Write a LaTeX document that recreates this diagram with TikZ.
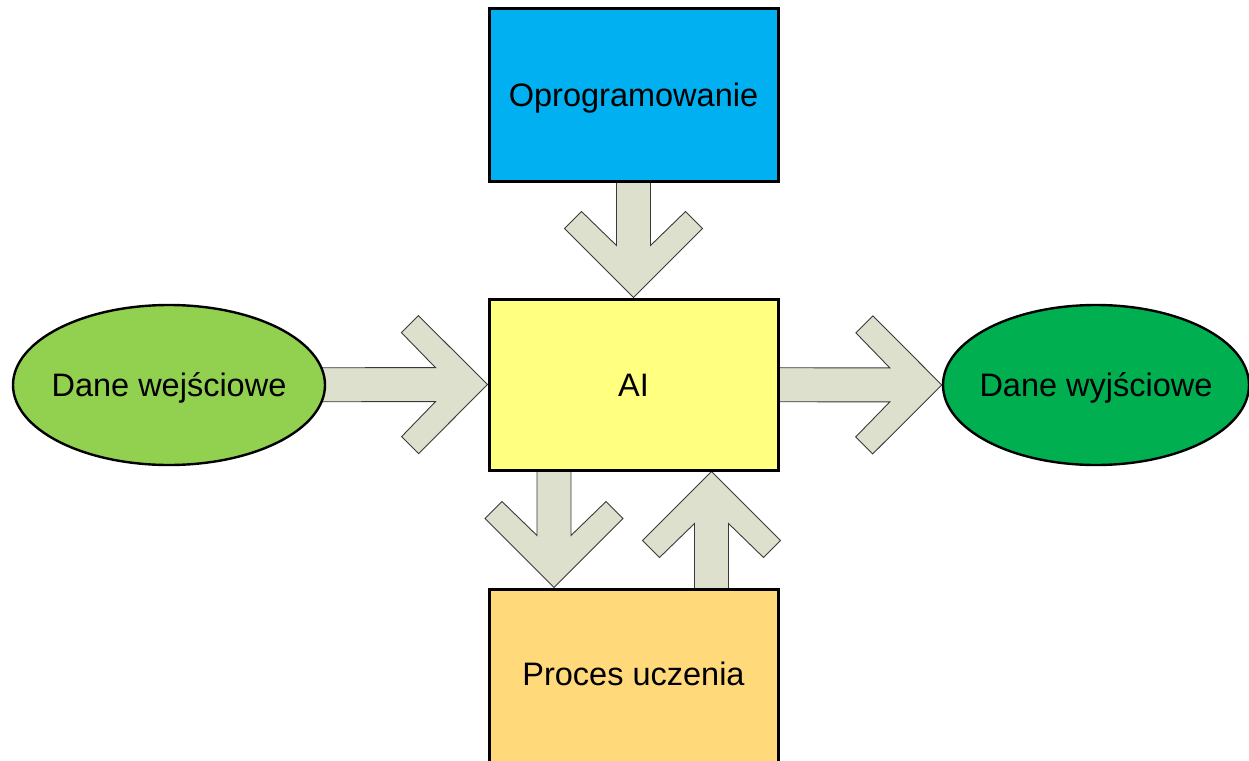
\documentclass[tikz,border=0pt]{standalone}
\usepackage{fontspec}
\setmainfont{Liberation Sans}
\usetikzlibrary{calc,backgrounds,shapes.geometric}
\definecolor{cblue}{HTML}{00B0F0}
\definecolor{cyellow}{HTML}{FFFF80}
\definecolor{cgold}{HTML}{FFD97A}
\definecolor{clgreen}{HTML}{92D050}
\definecolor{cgreen}{HTML}{00B050}
\definecolor{carrow}{HTML}{DDE0CC}
\definecolor{cedge}{HTML}{3A3A3A}
\newcommand\blkarrow[2]{%
  \draw[blk] (#2) -- ($(#2)!97.58pt!45:(#1)$) -- ($(#2)!100.5pt!31.16:(#1)$)
    -- ($(#2)!54.71pt!18.1:(#1)$) -- ($(#1)!17pt!-90:(#2)$)
    -- ($(#1)!17pt!90:(#2)$) -- ($(#2)!54.71pt!-18.1:(#1)$)
    -- ($(#2)!100.5pt!-31.16:(#1)$) -- ($(#2)!97.58pt!-45:(#1)$) -- cycle;}
\begin{document}
\begin{tikzpicture}[x=1pt,y=-1pt,
  every node/.style={font=\fontsize{32.5}{38}\selectfont, text height=23pt, text depth=0pt},
  box/.style={draw=black, line width=3pt, rectangle, minimum width=289pt, inner sep=0pt},
  oval/.style={draw=black, line width=2.4pt, ellipse, inner ysep=0pt, inner xsep=-30pt},
  blk/.style={fill=carrow, draw=cedge, line width=0.9pt, line join=miter}]
\useasboundingbox (0,0) rectangle (1249,760);
\node[box, fill=cblue, minimum height=172pt] (soft) at (633.5,95) {Oprogramowanie};
\node[box, fill=cyellow, minimum height=171pt] (ai) at (633.5,384.5) {AI};
\node[box, fill=cgold, minimum height=181pt, text depth=11pt] (learn) at (633.5,679.5) {Proces uczenia};
\node[oval, fill=clgreen, minimum width=312pt, minimum height=160pt] (ein) at (169,385) {Dane wejściowe};
\node[oval, fill=cgreen, minimum width=306pt, minimum height=160pt] (eout) at (1096,385) {Dane wyjściowe};
\coordinate (dstart) at ($(ai.center)+(-79.5,0)$);
\coordinate (dtip) at ($(learn.north)+(-79.5,0)$);
\coordinate (ustart) at ($(learn.center)+(78,0)$);
\coordinate (utip) at ($(ai.south)+(78,0)$);
\begin{scope}[on background layer]
  \blkarrow{soft.center}{ai.north}
  \blkarrow{ein.center}{ai.west}
  \blkarrow{ai.center}{eout.west}
  \blkarrow{dstart}{dtip}
  \blkarrow{ustart}{utip}
\end{scope}
\end{tikzpicture}
\end{document}
